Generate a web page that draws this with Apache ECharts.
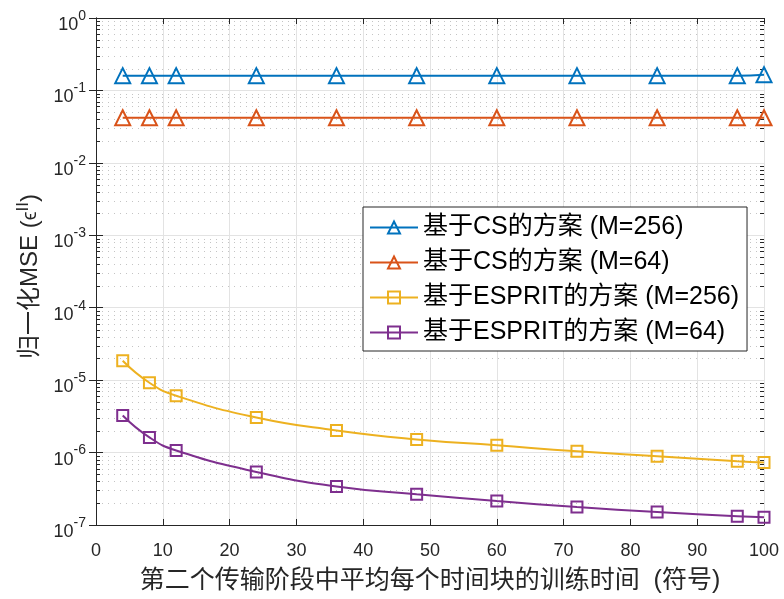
<!DOCTYPE html>
<html><head><meta charset="utf-8">
<script src="https://cdn.jsdelivr.net/npm/echarts@6/dist/echarts.min.js"></script>
<style>html,body{margin:0;padding:0;background:#fff}#c{width:784px;height:599px}</style>
</head><body><div id="c"></div>
<script>
const xValues = [4, 8, 12, 24, 36, 48, 60, 72, 84, 96, 100];
const csM256 = [0.16, 0.16, 0.16, 0.16, 0.16, 0.16, 0.16, 0.16, 0.16, 0.16, 0.165];
const csM64 = [0.042, 0.042, 0.042, 0.042, 0.042, 0.042, 0.042, 0.042, 0.042, 0.042, 0.042];
const espritM256 = [1.85e-5, 9.2e-6, 6.1e-6, 3.05e-6, 2.02e-6, 1.52e-6, 1.26e-6, 1.04e-6, 8.9e-7, 7.6e-7, 7.3e-7];
const espritM64 = [3.25e-6, 1.62e-6, 1.07e-6, 5.4e-7, 3.4e-7, 2.66e-7, 2.14e-7, 1.77e-7, 1.51e-7, 1.32e-7, 1.28e-7];
const seriesNames = ['基于CS的方案 (M=256)', '基于CS的方案 (M=64)', '基于ESPRIT的方案 (M=256)', '基于ESPRIT的方案 (M=64)'];
const colors = ['#0072BD', '#D95319', '#EDB120', '#7E2F8E'];
const xName = '第二个传输阶段中平均每个时间块的训练时间  (符号)';
const yDecades = [-7, -6, -5, -4, -3, -2, -1, 0];
const minorMultipliers = [2, 3, 4, 5, 6, 7, 8, 9];

const FONT = '"Liberation Sans", Arial, "Noto Sans CJK SC", sans-serif';
const TXT = '#262626';
const chart = echarts.init(document.getElementById('c'));

// minor tick positions of the log axis (axis structure, not data)
const minorVals = [];
yDecades.slice(0, -1).forEach(e => minorMultipliers.forEach(m => minorVals.push(m * Math.pow(10, e))));

function pairs(ys) { return xValues.map((x, i) => [x, ys[i]]); }
function mk(name, ys, color, symbol, size) {
  return {
    name, type: 'line', data: pairs(ys), symbol, symbolSize: size,
    smooth: 0.5,
    lineStyle: { color, width: 2 },
    itemStyle: { color: 'rgba(255,255,255,0)', borderColor: color, borderWidth: 2 },
    emphasis: { disabled: true }, animation: false, z: 5
  };
}
const yCommon = {
  type: 'log', logBase: 10, min: 1e-7, max: 1,
  axisLine: { show: true, lineStyle: { color: TXT, width: 1 } },
  axisTick: { show: true, inside: true, length: 7, lineStyle: { color: TXT } },
  minorTick: { show: false }
};
const xCommon = {
  type: 'value', min: 0, max: 100, interval: 10,
  axisLine: { show: true, onZero: false, lineStyle: { color: TXT, width: 1 } },
  axisTick: { show: true, inside: true, length: 6, lineStyle: { color: TXT } },
};
chart.setOption({
  animation: false,
  textStyle: { fontFamily: FONT },
  grid: { left: 96, right: 20, top: 18, bottom: 72, containLabel: false },
  legend: {
    data: seriesNames, orient: 'vertical', left: 363, top: 207,
    padding: [8, 8, 6, 6], itemGap: 10,
    itemWidth: 48, itemHeight: 15,
    backgroundColor: '#fff', borderColor: TXT, borderWidth: 1,
    textStyle: { fontSize: 25, color: '#000', fontFamily: FONT, lineHeight: 24 }
  },
  xAxis: [
    Object.assign({}, xCommon, {
      position: 'bottom',
      axisLabel: { fontSize: 18, color: TXT, margin: 17 },
      splitLine: { show: true, lineStyle: { color: '#e3e3e3', width: 1 } },
      name: xName, nameLocation: 'middle', nameGap: 44,
      nameTextStyle: { fontSize: 25, color: TXT, fontFamily: FONT }
    }),
    Object.assign({}, xCommon, { position: 'top', axisLabel: { show: false }, splitLine: { show: false } })
  ],
  yAxis: [
    Object.assign({}, yCommon, {
      position: 'left',
      axisLabel: {
        margin: 10, color: TXT,
        formatter: v => '{b|10}{s|' + Math.round(Math.log10(v)) + '}',
        rich: {
          b: { fontSize: 18, lineHeight: 18, color: TXT, fontFamily: FONT, padding: [14, 0, 0, 0] },
          s: { fontSize: 14, lineHeight: 14, color: TXT, fontFamily: FONT, padding: [0, 0, 4, 0] }
        }
      },
      splitLine: { show: true, lineStyle: { color: '#e3e3e3', width: 1 } },
      name: '{c|归一化}MSE ({e|ϵ}{s|II})', nameLocation: 'middle', nameGap: 48, nameRotate: 90,
      nameTextStyle: {
        fontSize: 24, color: TXT, fontFamily: FONT, padding: [0, 10, 0, 0],
        rich: {
          c: { fontSize: 24, color: TXT, fontFamily: FONT },
          e: { fontSize: 20, color: TXT, fontFamily: FONT },
          s: { fontSize: 17, color: TXT, fontFamily: FONT, padding: [0, 0, 14, 0] }
        }
      }
    }),
    Object.assign({}, yCommon, { position: 'right', axisLabel: { show: false }, splitLine: { show: false } })
  ],
  series: [
    {
      name: 'minorGrid', type: 'custom', silent: true, z: 1,
      xAxisIndex: 0, yAxisIndex: 0,
      data: minorVals.map(v => [0, v]), encode: { x: 0, y: 1 },
      renderItem: (params, api) => {
        const v = api.value(1);
        const p1 = api.coord([0, v]);
        const p2 = api.coord([100, v]);
        const y = Math.round(p1[1]) + 0.5;
        return {
          type: 'group', children: [
            { type: 'line', shape: { x1: p1[0], y1: y, x2: p2[0], y2: y }, style: { stroke: '#c4c4c4', lineWidth: 1, lineDash: [1, 5] } },
            { type: 'line', shape: { x1: p1[0], y1: y, x2: p1[0] + 4, y2: y }, style: { stroke: TXT, lineWidth: 1 } },
            { type: 'line', shape: { x1: p2[0] - 4, y1: y, x2: p2[0], y2: y }, style: { stroke: TXT, lineWidth: 1 } }
          ]
        };
      }
    },
    mk(seriesNames[0], csM256, colors[0], 'triangle', 15),
    mk(seriesNames[1], csM64, colors[1], 'triangle', 15),
    mk(seriesNames[2], espritM256, colors[2], 'rect', 11),
    mk(seriesNames[3], espritM64, colors[3], 'rect', 11)
  ]
});
</script></body></html>
